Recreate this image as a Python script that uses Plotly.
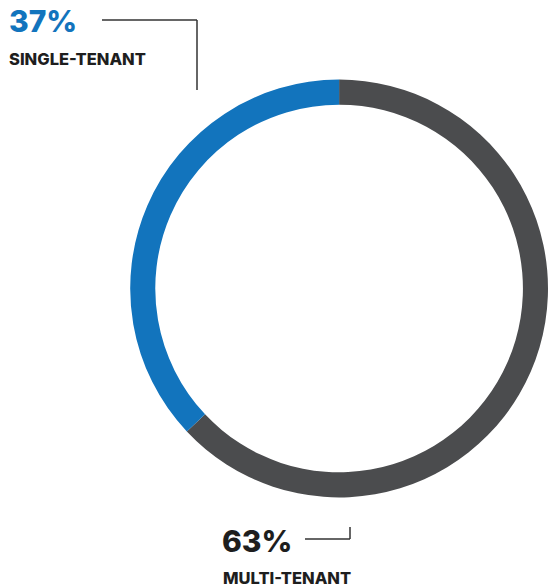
import plotly.graph_objects as go

labels = ["MULTI-TENANT", "SINGLE-TENANT"]
values = [63, 37]
colors = ["#4b4c4e", "#1274bd"]

W, H = 548, 588
fig = go.Figure(go.Pie(
    labels=labels, values=values, sort=False, direction="clockwise", rotation=0,
    hole=0.88, marker=dict(colors=colors, line=dict(width=0)),
    textinfo="none", showlegend=False, hoverinfo="label+percent",
    domain=dict(x=[0.2376, 1.0], y=[0.1536, 0.8651]),
))

def px(x): return x / W
def py(y): return 1 - y / H

font = "Inter, Roboto, Arial, sans-serif"
ann = [
    dict(text=f"{values[1]}%", x=px(7), y=py(21), xanchor="left", yanchor="middle",
         font=dict(family=font, size=30, color=colors[1], weight=800)),
    dict(text=labels[1], x=px(7), y=py(58.5), xanchor="left", yanchor="middle",
         font=dict(family=font, size=16.5, color="#1e1e1e", weight=800)),
    dict(text=f"{values[0]}%", x=px(220), y=py(541), xanchor="left", yanchor="middle",
         font=dict(family=font, size=30, color="#1e1e1e", weight=800)),
    dict(text=labels[0], x=px(221), y=py(578), xanchor="left", yanchor="middle",
         font=dict(family=font, size=16.5, color="#1e1e1e", weight=800)),
]
for a in ann:
    a.update(xref="paper", yref="paper", showarrow=False)

lc = dict(color="#333333", width=1.5)
shapes = [
    dict(type="line", x0=px(102), x1=px(197), y0=py(20), y1=py(20), line=lc),
    dict(type="line", x0=px(197), x1=px(197), y0=py(20), y1=py(90), line=lc),
    dict(type="line", x0=px(305), x1=px(350), y0=py(539), y1=py(539), line=lc),
    dict(type="line", x0=px(350), x1=px(350), y0=py(527), y1=py(539), line=lc),
]
for s in shapes:
    s.update(xref="paper", yref="paper")

fig.update_layout(width=W, height=H, margin=dict(l=0, r=0, t=0, b=0),
                  paper_bgcolor="white", plot_bgcolor="white",
                  annotations=ann, shapes=shapes)
fig.write_html("out.html")
